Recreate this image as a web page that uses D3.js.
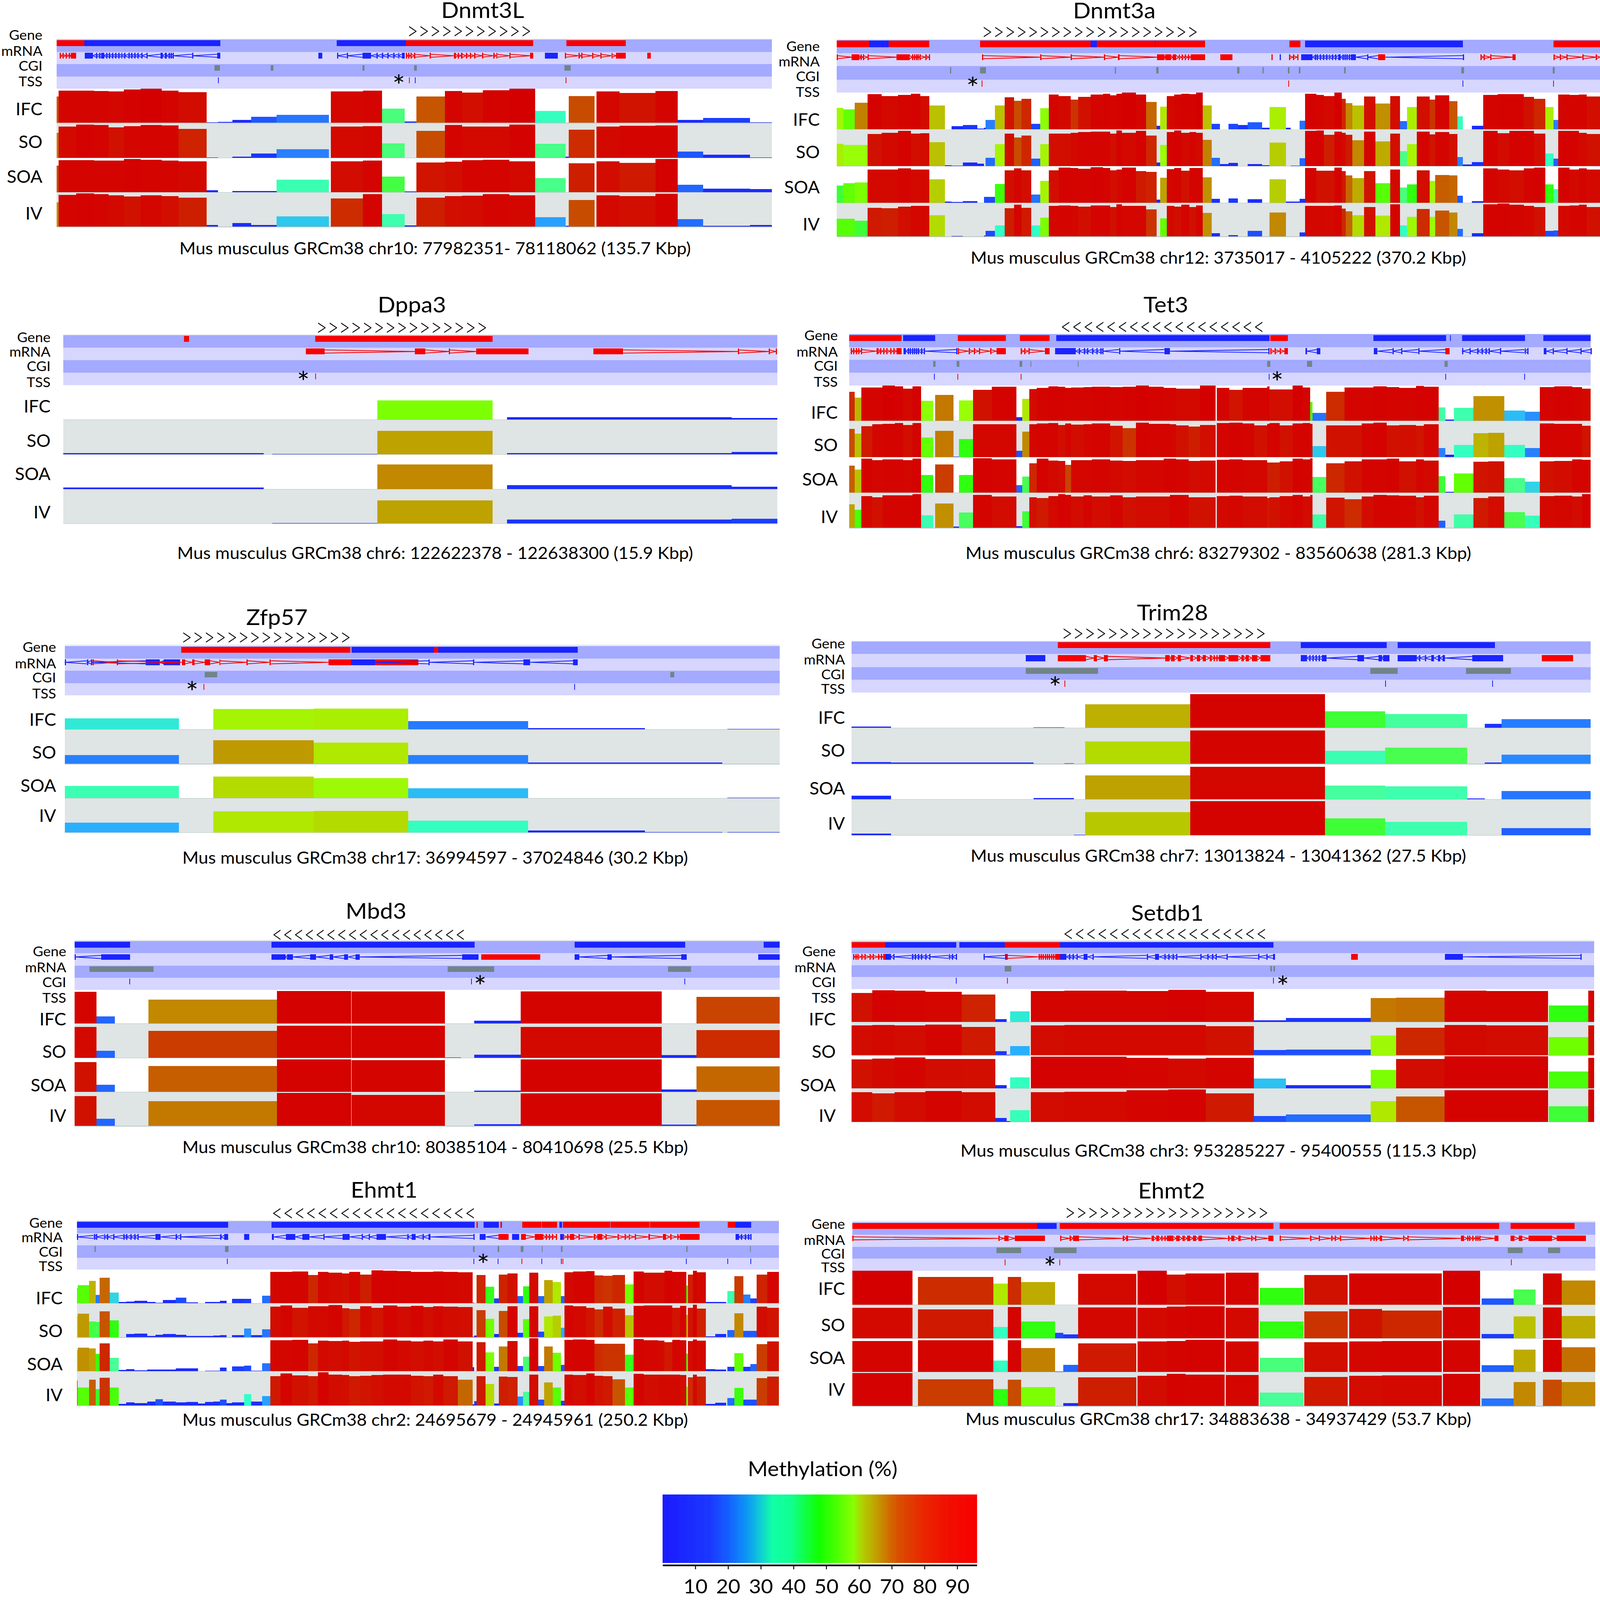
<!DOCTYPE html>
<html>
<head>
<meta charset="utf-8">
<script src="https://cdn.jsdelivr.net/npm/d3@7"></script>
<style>
  html, body { margin: 0; padding: 0; background: #fff; overflow: hidden; }
  svg { display: block; width: 100vw; height: 100vh; }
  text { font-family: Lato, "Open Sans", sans-serif; fill: #000; }
</style>
</head>
<body>
<svg id="chart" viewBox="0 0 4139 4322" preserveAspectRatio="none"></svg>
<script>
// positions along each window are in ruler units, every window has its own domain
const samples = ["IFC", "SO", "SOA", "IV"];
const bandNames = ["Gene", "mRNA", "CGI", "TSS"];

const barStops = [0, 10, 20, 25, 28, 31, 33, 40, 45, 50, 55, 58, 62, 66, 70, 74, 78, 82, 87, 92, 100];
const barColors = ["#1a22ff", "#1a2cff", "#2060ff", "#2880ff", "#28b0ff", "#30d4e4", "#30ffc8", "#48ff98", "#48ff50", "#30ff10", "#70ff00", "#98ff08", "#b0e800", "#bcb400", "#c09000", "#c47000", "#c84c00", "#cc2c00", "#d01400", "#d40600", "#d40000"];

const legendStops = [0, 14.3, 20, 25.6, 29.4, 33.2, 39, 47.5, 52, 58, 60.7, 64.9, 68.6, 71.6, 79, 86, 96];
const legendColors = ["#1a1aff", "#1a38ff", "#1460ff", "#0c98f4", "#10c8d8", "#10ffa8", "#10ff90", "#10ff00", "#40ff00", "#88ff00", "#b0d000", "#c0a000", "#d07000", "#d85000", "#e82800", "#f01000", "#f80000"];
const legendTicks = [10, 20, 30, 40, 50, 60, 70, 80, 90];

// Dnmt3L
const dnmt3lEdges = [112,116,151,186,215,245,278,320,353,409,431,460,497,547,651,655,718,756,801,824,880,914,955,1008,1059,1119,1125,1176,1180,1226,1297,1341,1391,1484,1527];
const dnmt3lIFC = [77,95,94,93,92,98,100,95,90,1.5,3,8,18,23.5,0,92,94,42,4,77,93,89,96,100,34.5,0,78,0,92,87.5,93,8,13.5,1];
const dnmt3lSO = [73,91,97,95,88,92,95,94,84,1,0,3.5,12,25,0,91,92,42,0,78,95,91,91,97,41,3.5,82,0,91,93,94,18,9,1];
const dnmt3lSOA = [78,94,94,93,93,97,95,93,91,5.5,0,3,3,36,0,90,93,46,2,87,89,94,95,91,41,0,85,0,90,86,97,21,9.5,8.5];
const dnmt3lIV = [71,93,97,95,91,88,92,89,85,5,0,10,4.5,30,0,82,95,37,3.5,85,89,90,95,92,27,2.5,78,0,91,89,96,22,2.5,5];
const dnmt3lGenes = [[112,167,"+"],[167,436,"-"],[666,803,"-"],[803,1055,"+"],[1121,1238,"+"]];
const dnmt3lMrna = [
  ["+",[118,124,130,136,[140,151]]],
  ["-",[[168,184],190,196,[200,206],210,216,222,228,234,240,246,254,260,266,272,280,290,[318,322],[326,330],334,338,342,380,[430,436]]],
  ["-",[[630,638]]],
  ["-",[667,686,[717,734],745,756,767,778,788,[795,801]]],
  ["+",[803,808,[812,815],819,[850,852],[898,902],906,[912,915],922,930,938,954,976,982,1008,[1049,1055]]],
  ["-",[[1078,1104]]],
  ["+",[1118,1145,1150,1172,1188,1210,[1219,1238]]],
  ["+",[[1281,1288]]]
];
const dnmt3lCgi = [[424,435],[536,541],[717,721],[819,825],[1117,1129]];
const dnmt3lTss = [[431,"-"],[809,"+"],[821,"-"],[1119,"+"]];

// Dnmt3a
const dnmt3aEdges = [86,99,121,146,173,205,230,248,266,296,309,331,359,372,375,393,412,430,445,464,481,498,517,540,555,579,603,617,629,640,667,687,707,714,727,741,755,771,784,797,814,830,847,865,884,912,926,958,967,985,995,1017,1032,1052,1067,1074,1087,1110,1132,1161,1180,1193,1212,1237,1248,1275,1291,1302,1319,1341,1369,1392,1420,1440,1462,1478,1487,1509,1527,1542,1568];
const dnmt3aIFC = [59,54,72,96,91,94,97,90,65,0,8,12,2,4,25,65,87,78,83,15,57,95,91,81,88,95,97,93,97,100,95,75,10,62,91,95,97,96,100,65,15,0,15,12,19,4,61,4,0,23,97,94,91,100,83,71,65,89,70,90,22,61,89,81,93,77,35,0,10,94,96,96,88,83,61,25,95,94,95,89];
const dnmt3aSO = [61,58,58,88,91,96,89,90,65,2,1,9,6,0,22,60,89,78,83,20,60,89,89,91,93,94,94,89,97,91,96,83,10,58,93,97,91,93,91,72,22,5,8,0,5,2,64,0,1,21,96,97,85,94,91,86,71,94,67,89,41,60,94,87,93,88,25,4,11,96,90,96,96,89,34,20,96,96,91,88];
const dnmt3aSOA = [47,54,56,91,91,94,91,91,64,3,2,5,0,16,16,51,89,94,89,23,60,89,96,95,93,97,95,89,91,96,86,84,9,68,92,95,88,95,95,70,11,0,12,0,10,0,64,3,4,11,95,88,88,96,86,75,67,87,53,91,42,50,89,60,76,75,19,0,5,94,91,89,94,96,50,38,96,91,94,91];
const dnmt3aIV = [53,53,47,86,85,89,92,91,63,0,1,0,0,2,16,33,85,95,86,33,56,92,93,92,89,93,93,88,96,92,92,81,0,54,91,89,95,88,93,70,9,0,4,0,17,0,71,0,0,12,92,92,91,93,83,75,63,88,62,96,33,59,82,59,77,71,22,0,9,96,98,95,92,88,17,18,91,93,95,88];
const dnmt3aGenes = [[86,149,"+"],[149,187,"-"],[187,266,"+"],[364,579,"+"],[579,591,"-"],[591,704,"+"],[704,705,"-"],[705,801,"+"],[965,986,"+"],[995,1302,"-"],[1478,1568,"+"]];
const dnmt3aMrna = [
  ["+",[86,[115,130],132,137,146,[202,228],232,236,240,243,247,258,265]],
  ["+",[368,481,540,605,[632,635],[708,722],[724,735],[738,745],750,756,762,768,[773,801]]],
  ["+",[[831,854]]],
  ["+",[930]],
  ["-",[946]],
  ["+",[964,972,980]],
  ["-",[[988,1010],1014,1018,1024,1030,1036,1042,1048,1054,[1060,1064],1068,1072,1076,1080,[1084,1094],1116,[1137,1151],1302]],
  ["+",[[1137,1151]]],
  ["+",[1336,1342,1355,[1398,1404]]],
  ["+",[1478,1490,1503,1534,1560,1568]]
];
const dnmt3aCgi = [[306,308],[364,376],[626,628],[706,711],[863,868],[913,915],[962,965],[983,986],[1071,1074],[1299,1304],[1476,1480]];
const dnmt3aTss = [[367,"+"],[963,"+"],[1301,"-"],[1477,"+"]];

// Dppa3
const dppa3Edges = [125,522,539,747,975,1003,1448,1538];
const dppa3IFC = [0,0,0,56,0,6.6,4.5];
const dppa3SO = [3.5,0,1,68,0,3,6.5];
const dppa3SOA = [4,0,0,71,0,10.7,6.6];
const dppa3IV = [0,0,1,68,0,11.7,13.7];
const dppa3Genes = [[364,374,"+"],[624,975,"+"]];
const dppa3Mrna = [
  ["+",[[605,642],[821,842],888,[942,1046]]],
  ["+",[[1174,1233],1460,1521,1535]]
];
const dppa3Cgi = [];
const dppa3Tss = [[624,"+"]];

// Tet3
const tet3Edges = [110,121,134,155,175,199,215,233,250,273,277,313,323,351,387,435,446,460,474,497,516,530,541,565,581,617,641,667,692,721,733,745,769,791,822,824,848,874,897,922,926,946,971,991,1005,1010,1036,1072,1105,1128,1154,1178,1211,1226,1255,1268,1284,1322,1351,1382,1422,1451,1479,1514,1533,1550];
const tet3IFC = [82,66,94,94,100,97,91,97,57,0,73,0,58,88,96,10,62,90,93,97,96,93,94,95,96,95,96,100,96,93,93,91,91,100,0,93,87,93,93,97,89,89,100,94,53,23,82,94,94,97,95,93,98,96,38,4,37,70,70,29,26,95,97,95,91];
const tet3SO = [78,65,86,92,93,95,89,95,54,0,73,1,50,92,92,17,71,92,94,95,89,94,90,92,94,87,81,96,93,93,92,88,85,89,0,95,96,94,88,93,95,88,94,95,93,30,88,88,94,96,88,89,87,92,25,6,34,66,68,34,25,94,93,93,87];
const tet3SOA = [76,65,96,92,94,94,92,96,50,0,80,0,50,97,94,21,45,83,96,91,90,79,92,92,94,91,90,92,92,96,96,94,90,91,0,93,94,92,92,85,85,88,96,94,97,44,83,88,94,94,96,88,94,91,47,2,54,87,88,41,31,88,90,94,93];
const tet3IV = [68,52,91,88,93,93,93,97,36,0,70,3,44,95,90,5,47,88,86,91,97,95,90,93,90,93,88,90,90,90,95,94,88,88,0,91,92,90,90,86,88,91,94,90,95,38,87,82,90,95,93,92,88,92,20,0,38,86,90,45,35,91,92,90,97];
const tet3Genes = [[110,212,"+"],[215,277,"-"],[321,414,"+"],[442,499,"+"],[512,926,"-"],[928,962,"+"],[1128,1269,"-"],[1277,1278,"-"],[1300,1422,"-"],[1458,1550,"-"]];
const tet3Mrna = [
  ["+",[113,118,123,128,133,[163,167],170,176,182,190,196,[202,212]]],
  ["-",[[216,220],224,228,232,236,240,244,250,255,318]],
  ["+",[321,342,352,362,384,[396,414]]],
  ["+",[443,450,458,[490,499]]],
  ["-",[[510,550],556,566,572,582,590,598,602,634,[722,733],924]],
  ["-",[[996,999],[1018,1025]]],
  ["+",[928,936,946,[955,962]]],
  ["-",[[1129,1136],1165,1182,1215,1268]],
  ["+",[[1268,1276]]],
  ["-",[1300,1315,1330,1338,1346,1352,1374,1422,1427]],
  ["-",[[1459,1464],1476,1503,1530,1550]]
];
const tet3Cgi = [[273,278],[319,324],[441,446],[462,464],[554,555],[922,928],[999,1009],[1266,1272]];
const tet3Tss = [[275,"-"],[320,"+"],[443,"+"],[925,"-"],[1268,"-"],[1421,"-"]];

// Zfp57
const zfp57Edges = [128,354,422,621,808,1045,1276,1429,1439,1543];
const zfp57IFC = [32,0,60,61,24,3.5,0,0,1];
const zfp57SO = [25,0,69,62,25,3.6,3.6,0,0];
const zfp57SOA = [36,0,63,59,29,1,0,0,2];
const zfp57IV = [28,0,62,63,34,5.6,1,0,1];
const zfp57Genes = [[359,693,"+"],[696,859,"-"],[859,867,"+"],[867,1143,"-"]];
const zfp57Mrna = [
  ["-",[128,172,180,[288,316],[324,356]]],
  ["+",[183,231,[360,366],[380,385],[405,416],434,[488,490],[533,536],[650,695]]],
  ["+",[[723,828]]],
  ["-",[[695,723],[723,742],848,[936,938],[1036,1049],[1134,1143]]]
];
const zfp57Cgi = [[405,430],[1326,1334]];
const zfp57Tss = [[403,"+"],[1136,"-"]];

// Trim28
const trim28Edges = [115,191,468,528,546,568,772,1034,1151,1310,1344,1377,1550];
const trim28IFC = [4,0,1,0,0,66.5,96,47,39,0,11.5,24.5];
const trim28SO = [4.5,3.5,0,1,0,63,93,36,45,0,3.5,25.5];
const trim28SOA = [10,0,3,3,0,68,92,39,37,2,0,23.5];
const trim28IV = [4,0,0,0,1,64.5,96,47,37,0,0,20];
const trim28Genes = [[515,928,"+"],[987,1154,"-"],[1175,1364,"-"]];
const trim28Mrna = [
  ["-",[[453,491]]],
  ["+",[[515,570],[585,591],[605,612],[724,732],[735,742],[748,754],[772,778],[785,791],[797,803],[810,814],818,823,[828,840],[847,866],[872,876],[880,886],[892,903],[909,928]]],
  ["-",[[987,999],1004,1010,1016,1022,[1028,1037],[1097,1110],[1138,1145],[1147,1159]]],
  ["-",[[1175,1212],1217,1228,[1240,1246],[1253,1258],[1262,1267],[1320,1380]]],
  ["+",[[1455,1516]]]
];
const trim28Cgi = [[453,593],[1122,1175],[1308,1395]];
const trim28Tss = [[528,"+"],[1151,"-"],[1359,"-"]];

// Mbd3
const mbd3Edges = [148,191,227,294,548,695,696,880,912,938,1030,1309,1378,1543];
const mbd3IFC = [94,21,0,71,97,0,95,1,0,8.5,95,1,79];
const mbd3SO = [91,21,0,80,95,0,95,1,0,9,91,8,82];
const mbd3SOA = [88,21,0,76,96,0,94,0,0,3.7,96,7,75];
const mbd3IV = [88,21,0,73,97,0,91.5,0,0,4.8,96,3.7,77];
const mbd3Genes = [[148,257,"-"],[537,939,"-"],[1137,1356,"-"],[1511,1543,"-"]];
const mbd3Mrna = [
  ["-",[148,[200,257]]],
  ["-",[[537,565],[568,580],[614,625],[652,659],[681,689],[703,712],[914,947]]],
  ["+",[[952,1069]]],
  ["-",[[1137,1146],[1202,1210],[1348,1359]]],
  ["-",[[1500,1543]]]
];
const mbd3Cgi = [[177,304],[886,978],[1322,1367]];
const mbd3Tss = [[256,"-"],[932,"-"],[1354,"-"]];

// Setdb1
const setdb1Edges = [115,155,198,258,329,394,416,423,461,463,528,649,730,803,896,958,1123,1172,1266,1347,1467,1469,1545,1557];
const setdb1IFC = [88,97,95,92,84,8,0,32,0,94,95,94,98,92,5,11.5,73,74,95,94,0,50,95];
const setdb1SO = [90,91,90,93,86,12.5,1.5,28,0,90,91,91,91,88,16,17,59,83,91,90,0,55,90];
const setdb1SOA = [88,91,94,90,89,10,0,34,0,97,97,93,91,93,29.5,10,56,90,98,98,0,52,93];
const setdb1IV = [90,86,90,93,90,11,2,35,0,90,91,95,98,86,17,22,62,77,96,96,0,47,98];
const setdb1Genes = [[115,181,"+"],[181,318,"-"],[324,412,"-"],[412,520,"+"],[520,934,"-"]];
const setdb1Mrna = [
  ["+",[118,122,126,134,140,150,156,166,172,[176,181]]],
  ["-",[[181,191],196,232,238,244,250,258,266,304,310,317]],
  ["-",[371,[413,418]]],
  ["+",[[415,418],478,482,486,490,494,498,502,506,[510,520]]],
  ["-",[[520,532],537,544,552,[565,573],583,688,[704,712],722,730,738,745,792,806,815,822,843,904,920,[933,937]]],
  ["+",[[1085,1098]]],
  ["-",[[1267,1302],1530]]
];
const setdb1Cgi = [[412,425],[928,931],[934,937]];
const setdb1Tss = [[317,"-"],[417,"+"],[933,"-"]];

// Ehmt1
const ehmt1Edges = [152,154,176,189,197,217,235,250,266,291,308,322,348,369,392,406,422,435,448,459,483,497,519,535,555,578,610,629,650,677,691,713,735,758,786,813,838,857,877,906,935,938,943,961,978,987,1004,1024,1035,1047,1065,1077,1094,1110,1117,1134,1160,1176,1193,1212,1237,1254,1274,1302,1315,1330,1346,1358,1361,1371,1379,1397,1415,1437,1439,1453,1471,1485,1497,1518,1541];
const ehmt1IFC = [45,53,66,24,75,31,3.5,4.5,6.5,3,1,8.5,16,2,0,3,3,6.5,0,12,13,0,22,92,93,94,83,92,90,88,92,85,97,96,95,93,93,94,92,91,1,0,83,49,14,84,88,21,50,90,21,68,62,21,91,94,95,82,81,83,55,94,90,90,96,93,92,52,85,96,91,3,3,0,36,80,25,14,84,93];
const ehmt1SO = [62,69,46,45,77,50,0,10,11,3.5,7.5,10,7.5,3.5,3.5,3.5,4.5,6.5,0,6.5,26,6.5,23,90,94,87,91,91,95,86,83,91,87,94,90,93,89,92,90,89,1,4.5,80,55,10,78,92,13,53,92,16,62,64,28,94,91,87,82,90,84,65,93,94,94,94,87,93,66,87,96,84,2,10,0,21,71,19,19,90,87];
const ehmt1SOA = [63,70,68,51,83,40,3,6,2.5,4,5,5,8,8,0,1.5,1.5,10.5,0,13.5,16,1,23,92,92,93,83,91,90,91,87,89,89,94,91,89,91,89,94,88,11,0,86,56,13,73,90,15,43,98,15,73,55,18,93,94,93,82,81,81,49,95,92,91,86,93,92,52,90,94,91,6,4,0,13,54,13,21,80,88];
const ehmt1IV = [73,53,76,48,81,52,4.5,9,6,11,17.5,11,9,10,5.5,10,11,16.5,6,9,33,11,27,86,94,88,86,97,90,89,86,87,89,91,91,87,86,91,86,75,3,12,86,63,5,85,84,26,40,90,17,68,53,14,91,89,94,87,86,77,53,93,90,91,91,91,89,55,82,91,85,4.5,8,0,22,51,17,17,80,85];
const ehmt1Genes = [[152,451,"-"],[537,939,"-"],[943,945,"+"],[957,987,"-"],[990,993,"+"],[1033,1071,"+"],[1072,1102,"+"],[1107,1112,"-"],[1114,1207,"+"],[1208,1285,"+"],[1286,1384,"+"],[1440,1455,"+"],[1455,1486,"-"]];
const ehmt1Mrna = [
  ["-",[152,186,190,206,212,224,244,250,258,266,272,[308,318],348,356,436,[444,451]]],
  ["-",[[483,493]]],
  ["-",[[538,542],[566,584],[598,612],640,[678,692],716,730,[745,764],806,[815,822],836,[848,852],937]],
  ["-",[[949,961],986]],
  ["+",[[986,1006]]],
  ["-",[[1013,1027]]],
  ["+",[[1031,1040],[1058,1075],1080,1086,1092,1100]],
  ["-",[[1108,1114]]],
  ["+",[1114,1122,[1128,1136],1145,[1175,1178],[1182,1192],1198,1222,1236,1244,1256,[1283,1286],[1312,1318],1326,1340,[1345,1384]]],
  ["-",[[1455,1462],1466,1474,1480,1485]]
];
const ehmt1Cgi = [[187,189],[445,452],[936,939],[985,988],[1030,1036],[1072,1073],[1110,1113],[1358,1360],[1484,1485]];
const ehmt1Tss = [[449,"-"],[937,"-"],[985,"-"],[1032,"+"],[1071,"-"],[1110,"-"],[1113,"+"],[1357,"-"],[1439,"-"],[1485,"-"]];

// Ehmt2
const ehmt2Edges = [116,233,244,390,418,444,510,526,555,668,670,727,763,839,841,905,907,992,994,1078,1081,1145,1261,1263,1335,1338,1400,1443,1457,1494,1559];
const ehmt2IFC = [100,0,82,62,82,67,0,0,91,0,100,89,93,0,95,0,50,0,88,0,93,93,0,100,0,18,45,0,92,71];
const ehmt2SO = [91,0,86,34,94,50,16,12,92,0,91,95,96,0,91,0,50,0,81,0,88,83,0,94,0,13,65,0,92,67];
const ehmt2SOA = [93,0,95,34,95,72,2,21,86,0,91,93,96,0,92,0,42,0,89,0,92,93,0,95,0,20,67,0,96,74];
const ehmt2IV = [98,0,80,50,78,56,0,9,85,0,90,96,93,0,92,0,40,0,86,0,90,91,0,96,0,23,71,0,78,71];
const ehmt2Genes = [[116,475,"+"],[475,513,"-"],[519,934,"+"],[946,1372,"+"],[1394,1519,"+"]];
const ehmt2Mrna = [
  ["+",[116,400,[411,420],[432,490]]],
  ["+",[520,[538,541],[545,556],[641,644],[648,652],[697,702],[706,712],716,722,[727,740],[745,752],[757,762],[766,772],[778,784],[788,795],846,[852,858],[866,870],891,898,[924,934]]],
  ["+",[946,1005,1022,1046,1053,1063,1122,1128,1133,[1140,1145],1186,1194,[1298,1304],1310,1314,1320,1326,1330,1334,[1363,1371]]],
  ["+",[[1394,1402],[1410,1417],[1429,1475],[1484,1541]]]
];
const ehmt2Cgi = [[396,444],[508,552],[1389,1418],[1467,1491]];
const ehmt2Tss = [[412,"+"],[518,"+"],[1395,"+"]];

// where each window sits on the page: ox/oy/kx/ky turn read-off units into pixels
const LEFT = 2050 / 1568, RIGHT = 2089 / 1568;
const K720 = 720 / 1568, K740 = 740 / 1568, K760 = 760 / 1568;

const panels = [
  { gene: "Dnmt3L", caption: "Mus musculus GRCm38 chr10: 77982351- 78118062 (135.7 Kbp)", chev: ">", chevN: 11,
    edges: dnmt3lEdges, values: [dnmt3lIFC, dnmt3lSO, dnmt3lSOA, dnmt3lIV], genes: dnmt3lGenes, mrna: dnmt3lMrna, cgi: dnmt3lCgi, tss: dnmt3lTss, star: 789,
    ox: 0, oy: 0, kx: LEFT, ky: K720, xr: [112, 1527], strip: 228, bands: [232, 306, 378, 450, 522],
    tracks: [[522, 722], [726, 928], [930, 1130], [1132, 1333]], labels: [207, 300, 388, 480, 643, 835, 1040, 1257], labelX: 84,
    titleAt: [955, 105], chevAt: [805, 1052, 187], capAt: [861, 1495], starY: 473 },
  { gene: "Dnmt3a", caption: "Mus musculus GRCm38 chr12: 3735017 - 4105222 (370.2 Kbp)", chev: ">", chevN: 19,
    edges: dnmt3aEdges, values: [dnmt3aIFC, dnmt3aSO, dnmt3aSOA, dnmt3aIV], genes: dnmt3aGenes, mrna: dnmt3aMrna, cgi: dnmt3aCgi, tss: dnmt3aTss, star: 350,
    ox: 2050, oy: 0, kx: RIGHT, ky: K740, xr: [86, 1568], strip: 226, bands: [228, 305, 378, 456, 530],
    tracks: [[530, 740], [741, 950], [951, 1161], [1162, 1353]], labels: [265, 352, 437, 527, 685, 872, 1072, 1285], labelX: 53,
    titleAt: [625, 105], chevAt: [367, 788, 185], capAt: [827, 1510], starY: 475 },
  { gene: "Dppa3", caption: "Mus musculus GRCm38 chr6: 122622378 - 122638300 (15.9 Kbp)", chev: ">", chevN: 15,
    edges: dppa3Edges, values: [dppa3IFC, dppa3SO, dppa3SOA, dppa3IV], genes: dppa3Genes, mrna: dppa3Mrna, cgi: dppa3Cgi, tss: dppa3Tss, star: 600,
    ox: 0, oy: 790, kx: LEFT, ky: K740, xr: [125, 1538], strip: 240, bands: [244, 316, 388, 458, 530],
    tracks: [[530, 727], [729, 926], [928, 1125], [1127, 1322]], labels: [257, 340, 423, 515, 653, 850, 1040, 1260], labelX: 100,
    titleAt: [815, 115], chevAt: [625, 965, 205], capAt: [861, 1525], starY: 485 },
  { gene: "Tet3", caption: "Mus musculus GRCm38 chr6: 83279302 - 83560638 (281.3 Kbp)", chev: "<", chevN: 18,
    edges: tet3Edges, values: [tet3IFC, tet3SO, tet3SOA, tet3IV], genes: tet3Genes, mrna: tet3Mrna, cgi: tet3Cgi, tss: tet3Tss, star: 941,
    ox: 2050, oy: 790, kx: RIGHT, ky: K740, xr: [110, 1550], strip: 238, bands: [238, 314, 386, 460, 532],
    tracks: [[532, 735], [737, 941], [943, 1146], [1148, 1347]], labels: [245, 340, 420, 512, 688, 875, 1072, 1285], labelX: 88,
    titleAt: [725, 115], chevAt: [520, 917, 200], capAt: [827, 1525], starY: 487 },
  { gene: "Zfp57", caption: "Mus musculus GRCm38 chr17: 36994597 - 37024846 (30.2 Kbp)", chev: ">", chevN: 15,
    edges: zfp57Edges, values: [zfp57IFC, zfp57SO, zfp57SOA, zfp57IV], genes: zfp57Genes, mrna: zfp57Mrna, cgi: zfp57Cgi, tss: zfp57Tss, star: 380,
    ox: 0, oy: 1620, kx: LEFT, ky: K740, xr: [128, 1543], strip: 256, bands: [265, 337, 407, 477, 547],
    tracks: [[547, 742], [744, 939], [941, 1136], [1138, 1331]], labels: [272, 365, 447, 537, 688, 875, 1065, 1237], labelX: 111,
    titleAt: [548, 145], chevAt: [358, 695, 218], capAt: [861, 1510], starY: 500 },
  { gene: "Trim28", caption: "Mus musculus GRCm38 chr7: 13013824 - 13041362 (27.5 Kbp)", chev: ">", chevN: 18,
    edges: trim28Edges, values: [trim28IFC, trim28SO, trim28SOA, trim28IV], genes: trim28Genes, mrna: trim28Mrna, cgi: trim28Cgi, tss: trim28Tss, star: 510,
    ox: 2050, oy: 1620, kx: RIGHT, ky: K740, xr: [115, 1550], strip: 238, bands: [238, 311, 386, 458, 532],
    tracks: [[532, 733], [735, 939], [941, 1142], [1144, 1347]], labels: [252, 342, 427, 510, 677, 863, 1080, 1283], labelX: 102,
    titleAt: [738, 118], chevAt: [522, 920, 197], capAt: [827, 1500], starY: 473 },
  { gene: "Mbd3", caption: "Mus musculus GRCm38 chr10: 80385104 - 80410698 (25.5 Kbp)", chev: "<", chevN: 18,
    edges: mbd3Edges, values: [mbd3IFC, mbd3SO, mbd3SOA, mbd3IV], genes: mbd3Genes, mrna: mbd3Mrna, cgi: mbd3Cgi, tss: mbd3Tss, star: 950,
    ox: 0, oy: 2400, kx: LEFT, ky: K760, xr: [148, 1543], strip: 287, bands: [293, 361, 429, 497, 565],
    tracks: [[565, 753], [755, 943], [945, 1133], [1135, 1323]], labels: [352, 440, 522, 610, 730, 910, 1097, 1268], labelX: 131,
    titleAt: [744, 168], chevAt: [538, 922, 260], capAt: [861, 1475], starY: 518 },
  { gene: "Setdb1", caption: "Mus musculus GRCm38 chr3: 953285227 - 95400555 (115.3 Kbp)", chev: "<", chevN: 18,
    edges: setdb1Edges, values: [setdb1IFC, setdb1SO, setdb1SOA, setdb1IV], genes: setdb1Genes, mrna: setdb1Mrna, cgi: setdb1Cgi, tss: setdb1Tss, star: 952,
    ox: 2050, oy: 2400, kx: RIGHT, ky: K760, xr: [115, 1557], strip: 287, bands: [295, 361, 427, 493, 561],
    tracks: [[561, 743], [745, 929], [931, 1114], [1116, 1300]], labels: [352, 440, 522, 610, 730, 910, 1097, 1268], labelX: 84,
    titleAt: [728, 180], chevAt: [525, 922, 257], capAt: [827, 1495], starY: 520 },
  { gene: "Ehmt1", caption: "Mus musculus GRCm38 chr2: 24695679 - 24945961 (250.2 Kbp)", chev: "<", chevN: 18,
    edges: ehmt1Edges, values: [ehmt1IFC, ehmt1SO, ehmt1SOA, ehmt1IV], genes: ehmt1Genes, mrna: ehmt1Mrna, cgi: ehmt1Cgi, tss: ehmt1Tss, star: 956,
    ox: 0, oy: 3180, kx: LEFT, ky: K720, xr: [152, 1541], strip: 253, bands: [258, 329, 401, 473, 542],
    tracks: [[542, 740], [742, 941], [943, 1140], [1142, 1342]], labels: [268, 355, 440, 525, 712, 905, 1100, 1282], labelX: 124,
    titleAt: [760, 120], chevAt: [537, 942, 215], capAt: [861, 1462], starY: 485 },
  { gene: "Ehmt2", caption: "Mus musculus GRCm38 chr17: 34883638 - 34937429 (53.7 Kbp)", chev: ">", chevN: 18,
    edges: ehmt2Edges, values: [ehmt2IFC, ehmt2SO, ehmt2SOA, ehmt2IV], genes: ehmt2Genes, mrna: ehmt2Mrna, cgi: ehmt2Cgi, tss: ehmt2Tss, star: 500,
    ox: 2050, oy: 3180, kx: RIGHT, ky: K720, xr: [116, 1559], strip: 255, bands: [265, 338, 409, 479, 551],
    tracks: [[551, 749], [751, 947], [949, 1146], [1148, 1346]], labels: [275, 370, 450, 532, 657, 870, 1065, 1250], labelX: 102,
    titleAt: [736, 125], chevAt: [528, 925, 212], capAt: [827, 1458], starY: 503 }
];

const RED = "#f80000", BLUE = "#1a24ff";
const strandColor = s => s === "+" ? RED : BLUE;

const svg = d3.select("#chart");
const barColor = d3.scaleLinear().domain(barStops).range(barColors).interpolate(d3.interpolateRgb);
const legendColor = d3.scaleLinear().domain(legendStops).range(legendColors).interpolate(d3.interpolateRgb);

panels.forEach(p => {
  const px = z => p.ox + z * p.kx;
  const py = z => p.oy + z * p.ky;
  const x = d3.scaleLinear().domain(p.xr).range([px(p.xr[0]), px(p.xr[1])]);
  const g = svg.append("g").attr("class", "panel").attr("shape-rendering", "crispEdges");

  // title, strand chevrons and caption
  svg.append("text").attr("x", px(p.titleAt[0])).attr("y", py(p.titleAt[1]))
    .attr("text-anchor", "middle").attr("font-size", 60).text(p.gene);
  const chevW = (p.chevAt[1] - p.chevAt[0]) * p.kx;
  svg.append("text").attr("x", px(p.chevAt[0])).attr("y", py(p.chevAt[2]) + 22)
    .attr("font-size", 68).attr("font-weight", 300)
    .attr("textLength", chevW).attr("lengthAdjust", "spacingAndGlyphs")
    .text(p.chev.repeat(p.chevN));
  svg.append("text").attr("x", px(p.capAt[0])).attr("y", py(p.capAt[1]))
    .attr("text-anchor", "middle").attr("font-size", 45.5).text(p.caption);

  // pale strip above the bands, then the four annotation bands
  const bandY = p.bands.map(py);
  g.append("rect").attr("x", x.range()[0]).attr("width", x.range()[1] - x.range()[0])
    .attr("y", py(p.strip)).attr("height", bandY[0] - py(p.strip)).attr("fill", "#e8ecec");
  g.selectAll(".band").data(d3.pairs(bandY)).join("rect").attr("class", "band")
    .attr("x", x.range()[0]).attr("width", x.range()[1] - x.range()[0])
    .attr("y", d => d[0]).attr("height", d => d[1] - d[0])
    .attr("fill", (d, i) => i % 2 ? "#d6d6ff" : "#a3aaff");

  const boxTop = i => bandY[i] + (bandY[i + 1] - bandY[i]) * 0.07;
  const boxH = i => (bandY[i + 1] - bandY[i]) * 0.47;

  g.selectAll(".gene").data(p.genes).join("rect").attr("class", "gene")
    .attr("x", d => x(d[0])).attr("width", d => Math.max(x(d[1]) - x(d[0]), 1.5))
    .attr("y", boxTop(0)).attr("height", boxH(0))
    .attr("fill", d => strandColor(d[2]));

  // transcripts: exons as boxes or ticks, introns as long thin arrowheads
  const mid = boxTop(1) + boxH(1) / 2;
  const half = boxH(1) * 0.27;
  p.mrna.forEach(run => {
    const strand = run[0];
    const exons = run[1].map(e => Array.isArray(e) ? e : [e, e]);
    const intron = d3.line();
    svg.append("g").selectAll("path").data(d3.pairs(exons)).join("path")
      .attr("fill", "none").attr("stroke", strandColor(strand)).attr("stroke-width", 2.2)
      .attr("d", d => {
        const a = x(d[0][1]), b = x(d[1][0]);
        return strand === "+"
          ? intron([[a, mid - half], [b, mid], [a, mid + half]])
          : intron([[b, mid - half], [a, mid], [b, mid + half]]);
      });
    g.append("g").selectAll("rect").data(exons).join("rect")
      .attr("x", d => x(d[0])).attr("width", d => Math.max(x(d[1]) - x(d[0]), 3))
      .attr("y", boxTop(1)).attr("height", boxH(1))
      .attr("fill", strandColor(strand));
  });

  g.selectAll(".cgi").data(p.cgi).join("rect").attr("class", "cgi")
    .attr("x", d => x(d[0])).attr("width", d => Math.max(x(d[1]) - x(d[0]), 2))
    .attr("y", boxTop(2)).attr("height", boxH(2)).attr("fill", "#718488");

  g.selectAll(".tss").data(p.tss).join("rect").attr("class", "tss")
    .attr("x", d => x(d[0])).attr("width", 2)
    .attr("y", boxTop(3)).attr("height", boxH(3))
    .attr("fill", d => strandColor(d[1]));

  svg.append("text").attr("x", x(p.star)).attr("y", py(p.starY) + 42)
    .attr("text-anchor", "middle").attr("font-size", 78).text("*");

  // methylation tracks
  samples.forEach((name, s) => {
    const t = p.tracks[s];
    const y = d3.scaleLinear().domain([0, 100]).range([py(t[1]), py(t[0])]);
    if (s % 2) {
      g.append("rect").attr("x", x.range()[0]).attr("width", x.range()[1] - x.range()[0])
        .attr("y", y(100)).attr("height", y(0) - y(100)).attr("fill", "#dfe4e4");
    }
    const bins = d3.pairs(p.edges).map((e, i) => ({ a: e[0], b: e[1], v: p.values[s][i] }));
    g.append("g").selectAll("rect").data(bins.filter(d => d.v > 0)).join("rect")
      .attr("x", d => x(d.a)).attr("width", d => x(d.b) - x(d.a))
      .attr("y", d => y(d.v)).attr("height", d => y(0) - y(d.v))
      .attr("fill", d => barColor(d.v));
    g.append("rect").attr("x", x.range()[0]).attr("width", x.range()[1] - x.range()[0])
      .attr("y", y(0)).attr("height", 1.5).attr("fill", "#b8c6c6");
  });

  // row labels
  const rowLabels = bandNames.concat(samples);
  svg.append("g").selectAll("text").data(rowLabels).join("text")
    .attr("x", px(p.labelX))
    .attr("y", (d, i) => py(p.labels[i]))
    .attr("dy", "0.35em")
    .attr("text-anchor", "end")
    .attr("font-size", (d, i) => i < 4 ? 37 : 46)
    .text(d => d);
});

// colour key
const legendX = d3.scaleLinear().domain([0, 96]).range([1714, 2527]);
const legend = svg.append("g");
legend.append("text").attr("x", 2128).attr("y", 3987).attr("text-anchor", "middle")
  .attr("font-size", 56).text("Methylation (%)");
legend.append("g").selectAll("rect").data(d3.range(0, 96, 0.5)).join("rect")
  .attr("x", d => legendX(d)).attr("width", legendX(0.5) - legendX(0) + 0.6)
  .attr("y", 4037).attr("height", 185)
  .attr("fill", d => legendColor(d));
const legendAxis = legend.append("g").attr("transform", "translate(0,4228)")
  .call(d3.axisBottom(legendX).tickValues(legendTicks).tickSize(11).tickSizeOuter(0).tickPadding(27));
legendAxis.select(".domain").attr("stroke", "#000").attr("stroke-width", 4.5);
legendAxis.selectAll(".tick line").attr("stroke", "#000").attr("stroke-width", 2.5);
legendAxis.selectAll(".tick text").attr("font-size", 54).attr("font-family", "Lato, 'Open Sans', sans-serif").attr("fill", "#000");
</script>
</body>
</html>
